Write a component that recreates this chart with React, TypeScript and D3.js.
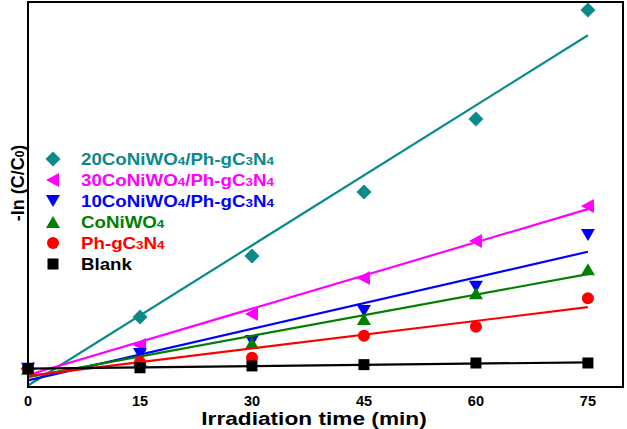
import React from "react";
import * as d3 from "d3";

const times = [0, 15, 30, 45, 60, 75];
const xTicks = [0, 15, 30, 45, 60, 75];
const s20 = [0, 0.282, 0.615, 0.964, 1.362, 1.957];
const s30 = [0, 0.129, 0.298, 0.495, 0.697, 0.887];
const s10 = [0, 0.08, 0.151, 0.315, 0.447, 0.729];
const sCoNi = [0, 0.047, 0.14, 0.271, 0.411, 0.542];
const sPh = [0, 0.036, 0.06, 0.18, 0.229, 0.384];
const sBlank = [0, 0.005, 0.015, 0.022, 0.031, 0.031];

type Shape = "diamond" | "left" | "down" | "up" | "circle" | "square";
interface Series { name: [string, string][]; values: number[]; color: string; shape: Shape }

// name parts: [text, "n"|"s"] normal or subscript
const series: Series[] = [
  { name: [["20CoNiWO", "n"], ["4", "s"], ["/Ph-gC", "n"], ["3", "s"], ["N", "n"], ["4", "s"]], values: s20, color: "#0b8a8a", shape: "diamond" },
  { name: [["30CoNiWO", "n"], ["4", "s"], ["/Ph-gC", "n"], ["3", "s"], ["N", "n"], ["4", "s"]], values: s30, color: "#ff00ff", shape: "left" },
  { name: [["10CoNiWO", "n"], ["4", "s"], ["/Ph-gC", "n"], ["3", "s"], ["N", "n"], ["4", "s"]], values: s10, color: "#0000ff", shape: "down" },
  { name: [["CoNiWO", "n"], ["4", "s"]], values: sCoNi, color: "#008000", shape: "up" },
  { name: [["Ph-gC", "n"], ["3", "s"], ["N", "n"], ["4", "s"]], values: sPh, color: "#ff0000", shape: "circle" },
  { name: [["Blank", "n"]], values: sBlank, color: "#000000", shape: "square" },
];

const W = 627, H = 429;
const L = 28, R = 623, T = 2, B = 387;

const x = d3.scaleLinear().domain([0, 79.7]).range([L, R]);
const y = d3.scaleLinear().domain([-0.1, 2.0]).range([B, T]);

function fit(xs: number[], ys: number[]) {
  const mx = d3.mean(xs)!, my = d3.mean(ys)!;
  let sxy = 0, sxx = 0;
  xs.forEach((xi, i) => { sxy += (xi - mx) * (ys[i] - my); sxx += (xi - mx) ** 2; });
  const m = sxy / sxx;
  return { m, b: my - m * mx };
}

function marker(shape: Shape, cx: number, cy: number, color: string, key: string) {
  switch (shape) {
    case "diamond":
      return <path key={key} d={`M${cx},${cy - 7.5}L${cx + 7.5},${cy}L${cx},${cy + 7.5}L${cx - 7.5},${cy}Z`} fill={color} />;
    case "left":
      return <path key={key} d={`M${cx - 7},${cy}L${cx + 6},${cy - 7}L${cx + 6},${cy + 7}Z`} fill={color} />;
    case "down":
      return <path key={key} d={`M${cx - 7},${cy - 6}L${cx + 7},${cy - 6}L${cx},${cy + 6}Z`} fill={color} />;
    case "up":
      return <path key={key} d={`M${cx - 7},${cy + 6}L${cx + 7},${cy + 6}L${cx},${cy - 6}Z`} fill={color} />;
    case "circle":
      return <circle key={key} cx={cx} cy={cy} r={6} fill={color} />;
    case "square":
      return <rect key={key} x={cx - 5.5} y={cy - 5.5} width={11} height={11} fill={color} />;
  }
}

export default function App() {
  const font = "Arial, 'Liberation Sans', sans-serif";
  return (
    <svg width={W} height={H} style={{ position: "absolute", left: 0, top: 0, background: "#fff" }} fontFamily={font}>
      <rect x={0} y={0} width={W} height={H} fill="#fff" />
      {series.map((s, si) => {
        const f = fit(times, s.values);
        const x0 = times[0], x1 = times[times.length - 1];
        return (
          <g key={si}>
            <line x1={x(x0)} y1={y(f.m * x0 + f.b)} x2={x(x1)} y2={y(f.m * x1 + f.b)} stroke={s.color} strokeWidth={2.2} />
            {s.values.map((v, i) => marker(s.shape, x(times[i]), y(v), s.color, `${si}-${i}`))}
          </g>
        );
      })}
      <rect x={L} y={T} width={R - L} height={B - T} fill="none" stroke="#000" strokeWidth={2} />
      {xTicks.map((t) => (
        <text key={t} x={x(t)} y={405.5} textAnchor="middle" fontSize={14.5} fontWeight="bold">{t}</text>
      ))}
      <text transform="translate(314,424.5) scale(1.26,1)" textAnchor="middle" fontSize={18} fontWeight="bold">Irradiation time (min)</text>
      <text transform="translate(24,183) rotate(-90)" textAnchor="middle" fontSize={18} fontWeight="bold">
        -ln (C/C<tspan fontSize={12}>0</tspan>)
      </text>
      {series.map((s, i) => {
        const cy = 159 + i * 21;
        return (
          <g key={i}>
            {marker(s.shape, 53, cy, s.color, `leg${i}`)}
            <text transform={`translate(81,${cy + 5.5}) scale(1.17,1)`} fontSize={16} fontWeight="bold" fill={s.color}>
              {s.name.map(([t, k], j) => (
                <tspan key={j} fontSize={k === "s" ? 11.5 : 16}>{t}</tspan>
              ))}
            </text>
          </g>
        );
      })}
    </svg>
  );
}
